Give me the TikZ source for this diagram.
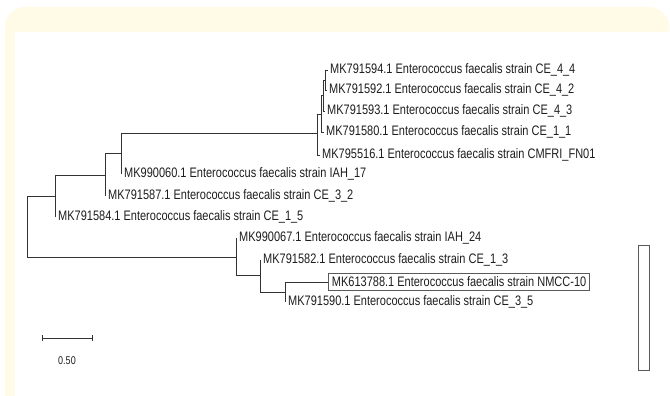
\documentclass[tikz,border=0pt]{standalone}
\usepackage{fontspec}
\setmainfont{Liberation Sans}
\definecolor{bgyellow}{HTML}{FFFBE6}
\definecolor{treeline}{HTML}{333333}
\definecolor{labtext}{HTML}{1E1E1E}
\definecolor{framegray}{HTML}{5A5A5A}
\newcommand{\lbl}[1]{\scalebox{1}[1.25]{#1}}
\tikzset{
  branch/.style={draw=treeline, line width=0.9pt},
  leaflab/.style={anchor=west, inner sep=0pt, text=labtext, font=\fontsize{11}{12}\selectfont},
  boxlab/.style={anchor=west, draw=framegray, line width=0.9pt, inner sep=3.5pt, minimum height=16pt, text=labtext, font=\fontsize{11}{12}\selectfont},
  scalelab/.style={inner sep=0pt, text=labtext, font=\fontsize{9}{10}\selectfont}
}
\begin{document}
\begin{tikzpicture}[x=1pt,y=-1pt]
\useasboundingbox (0,0) rectangle (670,396);
% background
\fill[bgyellow, rounded corners=20pt] (5,7) rectangle (669,420);
\fill[white] (15,32) rectangle (670,396);

% internal node coordinates
\coordinate (Rt) at (27,196);
\coordinate (Rb) at (27,257);
\coordinate (A) at (55,196);
\coordinate (At) at (55,175);
\coordinate (Ab) at (55,217);
\coordinate (B) at (105,175);
\coordinate (Bt) at (105,153);
\coordinate (Bb) at (105,196);
\coordinate (C) at (121,153);
\coordinate (Ct) at (121,133);
\coordinate (Cb) at (121,174);
\coordinate (D) at (317,133);
\coordinate (Dt) at (317,114);
\coordinate (Db) at (317,155);
\coordinate (E) at (321,114);
\coordinate (Et) at (321,95);
\coordinate (Eb) at (321,132);
\coordinate (F) at (323,95);
\coordinate (Ft) at (323,80);
\coordinate (Fb) at (323,111);
\coordinate (G) at (325,80);
\coordinate (Gt) at (325,70);
\coordinate (Gb) at (325,90);
\coordinate (H) at (236,257);
\coordinate (Ht) at (236,238);
\coordinate (Hb) at (236,275);
\coordinate (J) at (260,275);
\coordinate (Jt) at (260,260);
\coordinate (Jb) at (260,292);
\coordinate (K) at (285,292);
\coordinate (Kt) at (285,282);
\coordinate (Kb) at (285,302);

% leaf tips
\coordinate (l594) at (328,70);
\coordinate (l592) at (327,90);
\coordinate (l593) at (325,111);
\coordinate (l580) at (324,132);
\coordinate (l516) at (320,155);

% labels
\node[leaflab] (n594) at ([xshift=2pt]l594) {\lbl{MK791594.1 Enterococcus faecalis strain CE\_4\_4}};
\node[leaflab] (n592) at ([xshift=2pt]l592) {\lbl{MK791592.1 Enterococcus faecalis strain CE\_4\_2}};
\node[leaflab] (n593) at ([xshift=2pt]l593) {\lbl{MK791593.1 Enterococcus faecalis strain CE\_4\_3}};
\node[leaflab] (n580) at ([xshift=2pt]l580) {\lbl{MK791580.1 Enterococcus faecalis strain CE\_1\_1}};
\node[leaflab] (n516) at ([xshift=2pt]l516) {\lbl{MK795516.1 Enterococcus faecalis strain CMFRI\_FN01}};
\node[leaflab] (n060) at ([xshift=3pt]Cb) {\lbl{MK990060.1 Enterococcus faecalis strain IAH\_17}};
\node[leaflab] (n587) at ([xshift=3pt]Bb) {\lbl{MK791587.1 Enterococcus faecalis strain CE\_3\_2}};
\node[leaflab] (n584) at ([xshift=3pt]Ab) {\lbl{MK791584.1 Enterococcus faecalis strain CE\_1\_5}};
\node[leaflab] (n067) at ([xshift=3pt]Ht) {\lbl{MK990067.1 Enterococcus faecalis strain IAH\_24}};
\node[leaflab] (n582) at ([xshift=3pt]Jt) {\lbl{MK791582.1 Enterococcus faecalis strain CE\_1\_3}};
\node[boxlab] (n788) at (328,282) {\lbl{MK613788.1 Enterococcus faecalis strain NMCC-10}};
\node[leaflab] (n590) at ([xshift=3pt]Kb) {\lbl{MK791590.1 Enterococcus faecalis strain CE\_3\_5}};

% branches
\draw[branch] (Rt) -- (Rb);
\draw[branch] (Rt) -- (A);
\draw[branch] (At) -- (Ab);
\draw[branch] (At) -- (B);
\draw[branch] (Bt) -- (Bb);
\draw[branch] (Bt) -- (C);
\draw[branch] (Ct) -- (Cb);
\draw[branch] (Ct) -- (D);
\draw[branch] (Dt) -- (Db);
\draw[branch] (Db) -- (l516);
\draw[branch] (Dt) -- (E);
\draw[branch] (Et) -- (Eb);
\draw[branch] (Eb) -- (l580);
\draw[branch] (Et) -- (F);
\draw[branch] (Ft) -- (Fb);
\draw[branch] (Fb) -- (l593);
\draw[branch] (Ft) -- (G);
\draw[branch] (Gt) -- (Gb);
\draw[branch] (Gt) -- (l594);
\draw[branch] (Gb) -- (l592);
\draw[branch] (Rb) -- (H);
\draw[branch] (Ht) -- (Hb);
\draw[branch] (Hb) -- (J);
\draw[branch] (Jt) -- (Jb);
\draw[branch] (Jb) -- (K);
\draw[branch] (Kt) -- (Kb);
\draw[branch] (Kt) -- (n788.west);

% scale bar
\coordinate (sb1) at (42,338);
\coordinate (sb2) at (92,338);
\draw[branch] (sb1) -- (sb2);
\draw[branch] ([yshift=-3pt]sb1) -- ([yshift=3pt]sb1);
\draw[branch] ([yshift=-3pt]sb2) -- ([yshift=3pt]sb2);
\node[scalelab] (sbl) at (67,361) {\lbl{0.50}};

% empty frame on the right
\node[draw=framegray, line width=1pt, minimum width=11pt, minimum height=125pt, inner sep=0pt] (frame) at (643.5,307.5) {};
\end{tikzpicture}
\end{document}
